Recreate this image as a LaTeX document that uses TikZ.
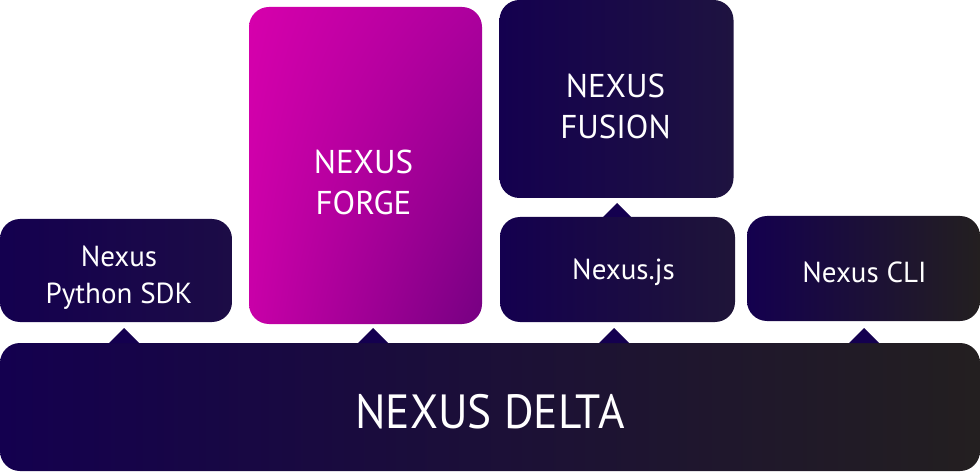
\documentclass[tikz,border=0pt]{standalone}
\usepackage{fontspec}
\setmainfont{PT Sans}
\usetikzlibrary{shadings}
\begin{document}
\begin{tikzpicture}[x=1pt,y=1pt,
  box/.style={rounded corners=20pt, inner sep=0pt},
  navybox/.style={box, left color=navy, right color=#1},
  txt/.style={text=white, align=center, inner sep=0pt},
  tri/.style={fill=navy},
  small/.style={font=\fontsize{29}{36.5}\selectfont},
  mid/.style={font=\fontsize{33}{41}\selectfont}]
\definecolor{navy}{HTML}{14004F}
\definecolor{gry}{HTML}{231F20}
\definecolor{sdkr}{HTML}{1C0C46}
\definecolor{jsr}{HTML}{1F1538}
\definecolor{fusr}{HTML}{1E1340}
\definecolor{delm}{HTML}{160848}
\definecolor{fUL}{HTML}{D600AC}
\definecolor{fUR}{HTML}{AC009D}
\definecolor{fLL}{HTML}{C800A8}
\definecolor{fLR}{HTML}{760082}
\useasboundingbox (0,0) rectangle (980,472);
% boxes
\node[box, left color=navy, middle color=delm, right color=gry,
      minimum width=980pt, minimum height=128pt] (delta) at (490,65) {};
\node[navybox=sdkr, minimum width=232pt, minimum height=103pt] (sdk) at (116,201.5) {};
\node[box, upper left=fUL, upper right=fUR, lower left=fLL, lower right=fLR,
      minimum width=233pt, minimum height=317pt] (forge) at (365.5,306.5) {};
\node[navybox=fusr, minimum width=234pt, minimum height=198pt] (fusion) at (616.5,373) {};
\node[navybox=jsr, minimum width=235pt, minimum height=105pt] (js) at (617.5,202.5) {};
\node[navybox=gry, minimum width=233pt, minimum height=105pt] (cli) at (863.5,203.5) {};
% texts
\node[txt, font=\fontsize{48}{56}\selectfont] (deltat) at ([yshift=-5pt]delta.center) {\scalebox{0.945}[1]{NEXUS DELTA}};
\node[txt, small] (sdkt) at ([xshift=3pt,yshift=-7pt]sdk.center) {Nexus\\Python SDK};
\node[txt, mid] (forget) at ([xshift=-2pt,yshift=-17pt]forge.center) {NEXUS\\FORGE};
\node[txt, mid] (fusiont) at ([xshift=-1pt,yshift=-7pt]fusion.center) {NEXUS\\FUSION};
\node[txt, small] (jst) at ([xshift=6pt,yshift=-3pt]js.center) {Nexus.js};
\node[txt, small] (clit) at ([xshift=1pt,yshift=-4pt]cli.center) {Nexus CLI};
% connector triangles
\foreach \x in {124,373,614,864}{
  \fill[tri] (\x-15,129) -- (\x,144) -- (\x+15,129) -- cycle;
}
\fill[tri] (603,255) -- (617,269) -- (631,255) -- cycle;
\end{tikzpicture}
\end{document}
